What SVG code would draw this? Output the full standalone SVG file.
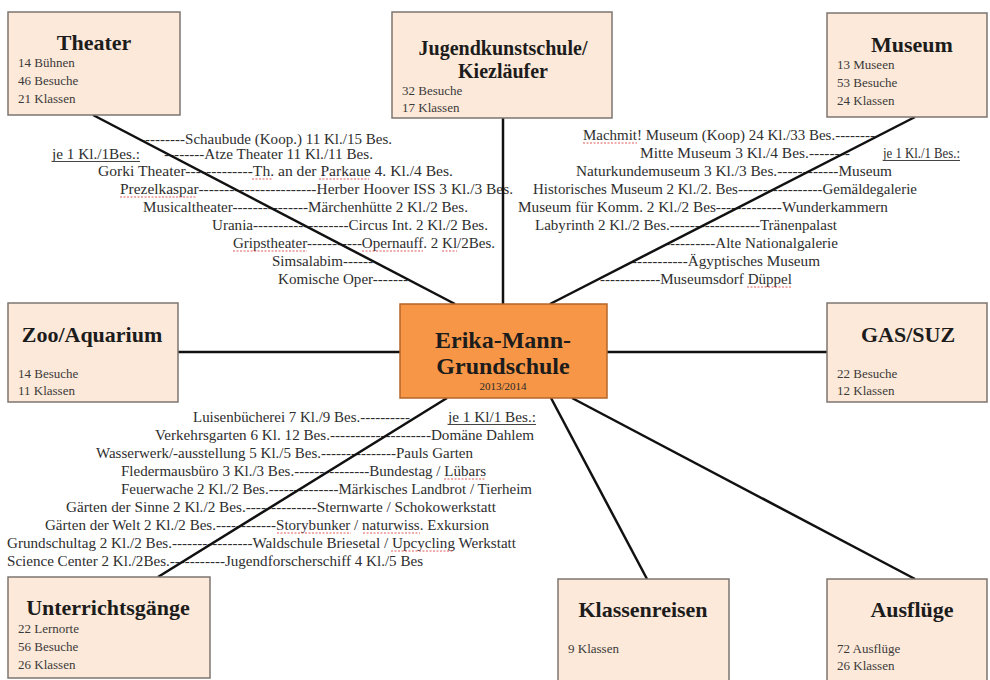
<svg xmlns="http://www.w3.org/2000/svg" width="990" height="680" viewBox="0 0 990 680">
<style>
.box{fill:#fde9d9;stroke:#7d7570;stroke-width:1.5}
.ctr{fill:#f79646;stroke:#b5652a;stroke-width:1.5}
.h{font-family:"Liberation Serif",serif;font-weight:bold;font-size:22px;fill:#1c1c1c;text-anchor:middle}
.hc{font-family:"Liberation Serif",serif;font-weight:bold;font-size:24px;fill:#1c1c1c;text-anchor:middle}
.b{font-family:"Liberation Serif",serif;font-size:13px;fill:#3a3a3a}
.t{font-family:"Liberation Serif",serif;font-size:15px;fill:#2e2e2e}
.ul{stroke:#444;stroke-width:1}
.sq{stroke:#e05a5a;stroke-width:1;fill:none;stroke-dasharray:2 1.5}
#connectors line{stroke:#111;stroke-width:2.5}
</style>

<g id="theater-list">
<text class="t" x="140" y="144" textLength="252" lengthAdjust="spacingAndGlyphs">---------Schaubude (Koop.) 11 Kl./15 Bes.</text>
<text class="t" x="52" y="159" textLength="88" lengthAdjust="spacingAndGlyphs">je 1 Kl./1Bes.:</text>
<line class="ul" x1="52" y1="161.5" x2="140" y2="161.5"/>
<text class="t" x="164" y="159" textLength="209" lengthAdjust="spacingAndGlyphs">--------Atze Theater 11 Kl./11 Bes.</text>
<text class="t" x="98" y="176" textLength="355" lengthAdjust="spacingAndGlyphs">Gorki Theater-------------Th. an der Parkaue 4. Kl./4 Bes.</text>
<text class="t" x="120" y="194" textLength="393" lengthAdjust="spacingAndGlyphs">Prezelkaspar-----------------------Herber Hoover ISS 3 Kl./3 Bes.</text>
<text class="t" x="143" y="212" textLength="325" lengthAdjust="spacingAndGlyphs">Musicaltheater---------------Märchenhütte 2 Kl./2 Bes.</text>
<text class="t" x="212" y="230" textLength="276" lengthAdjust="spacingAndGlyphs">Urania-------------------Circus Int. 2 Kl./2 Bes.</text>
<text class="t" x="233" y="248" textLength="262" lengthAdjust="spacingAndGlyphs">Gripstheater-----------Opernauff. 2 Kl/2Bes.</text>
<text class="t" x="272" y="266" textLength="101" lengthAdjust="spacingAndGlyphs">Simsalabim------</text>
<text class="t" x="278" y="284" textLength="130" lengthAdjust="spacingAndGlyphs">Komische Oper-------</text>
<path class="sq" d="M252 179H272M319 179H369M120 197H197M233 251H307M362 251H423M442 251H457"/>
</g>

<g id="museum-list">
<text class="t" x="583" y="140" textLength="292" lengthAdjust="spacingAndGlyphs">Machmit! Museum (Koop) 24 Kl./33 Bes.--------</text>
<text class="t" x="640" y="158" textLength="210" lengthAdjust="spacingAndGlyphs">Mitte Museum 3 Kl./4 Bes.--------</text>
<text class="t" x="883" y="158" textLength="77" lengthAdjust="spacingAndGlyphs">je 1 Kl./1 Bes.:</text>
<line class="ul" x1="883" y1="160.5" x2="960" y2="160.5"/>
<text class="t" x="576" y="176" textLength="316" lengthAdjust="spacingAndGlyphs">Naturkundemuseum 3 Kl./3 Bes.------------Museum</text>
<text class="t" x="533" y="194" textLength="384" lengthAdjust="spacingAndGlyphs">Historisches Museum 2 Kl./2. Bes-----------------Gemäldegalerie</text>
<text class="t" x="518" y="212" textLength="370" lengthAdjust="spacingAndGlyphs">Museum für Komm. 2 Kl./2 Bes-------------Wunderkammern</text>
<text class="t" x="535" y="230" textLength="302" lengthAdjust="spacingAndGlyphs">Labyrinth 2 Kl./2 Bes.------------------Tränenpalast</text>
<text class="t" x="665" y="248" textLength="173" lengthAdjust="spacingAndGlyphs">----------Alte Nationalgalerie</text>
<text class="t" x="632" y="266" textLength="188" lengthAdjust="spacingAndGlyphs">-----------Ägyptisches Museum</text>
<text class="t" x="600" y="284" textLength="192" lengthAdjust="spacingAndGlyphs">------------Museumsdorf Düppel</text>
<path class="sq" d="M583 143H637M747 287H791"/>
</g>

<g id="unterricht-list">
<text class="t" x="193" y="422" textLength="217" lengthAdjust="spacingAndGlyphs">Luisenbücherei 7 Kl./9 Bes.----------</text>
<text class="t" x="448" y="422" textLength="88" lengthAdjust="spacingAndGlyphs">je 1 Kl/1 Bes.:</text>
<line class="ul" x1="448" y1="424.5" x2="536" y2="424.5"/>
<text class="t" x="155" y="440" textLength="379" lengthAdjust="spacingAndGlyphs">Verkehrsgarten 6 Kl. 12 Bes.--------------------Domäne Dahlem</text>
<text class="t" x="96" y="458" textLength="377" lengthAdjust="spacingAndGlyphs">Wasserwerk/-ausstellung 5 Kl./5 Bes.---------------Pauls Garten</text>
<text class="t" x="121" y="476" textLength="365" lengthAdjust="spacingAndGlyphs">Fledermausbüro 3 Kl./3 Bes.---------------Bundestag / Lübars</text>
<text class="t" x="121" y="494" textLength="411" lengthAdjust="spacingAndGlyphs">Feuerwache 2 Kl./2 Bes.--------------Märkisches Landbrot / Tierheim</text>
<text class="t" x="66" y="512" textLength="430" lengthAdjust="spacingAndGlyphs">Gärten der Sinne 2 Kl./2 Bes.--------------Sternwarte / Schokowerkstatt</text>
<text class="t" x="45" y="530" textLength="444" lengthAdjust="spacingAndGlyphs">Gärten der Welt 2 Kl./2 Bes.------------Storybunker / naturwiss. Exkursion</text>
<text class="t" x="7" y="548" textLength="509" lengthAdjust="spacingAndGlyphs">Grundschultag 2 Kl./2 Bes.----------------Waldschule Briesetal / Upcycling Werkstatt</text>
<text class="t" x="7" y="566" textLength="416" lengthAdjust="spacingAndGlyphs">Science Center 2 Kl./2Bes.-----------Jugendforscherschiff 4 Kl./5 Bes</text>
<path class="sq" d="M444 479H486M277 533H351M363 533H420M391 551H453"/>
</g>

<g id="connectors">
<line x1="93" y1="115" x2="455" y2="304"/>
<line x1="503" y1="118" x2="503" y2="304"/>
<line x1="915" y1="117" x2="550" y2="304"/>
<line x1="178" y1="352" x2="400" y2="352"/>
<line x1="607" y1="352" x2="827" y2="352"/>
<line x1="447" y1="398" x2="158" y2="577"/>
<line x1="551" y1="398" x2="647" y2="579"/>
<line x1="572" y1="398" x2="915" y2="579"/>
</g>

<g id="theater">
<rect class="box" x="8" y="12" width="172" height="103"/>
<text class="h" x="94" y="50">Theater</text>
<text class="b" x="18" y="67">14 Bühnen</text>
<text class="b" x="18" y="85">46 Besuche</text>
<text class="b" x="18" y="103">21 Klassen</text>
</g>

<g id="jugendkunstschule">
<rect class="box" x="392" y="12" width="220" height="106"/>
<text class="h" x="503" y="55" style="font-size:20px">Jugendkunstschule/</text>
<text class="h" x="503" y="78" style="font-size:20px">Kiezläufer</text>
<text class="b" x="402" y="95">32 Besuche</text>
<text class="b" x="402" y="112">17 Klassen</text>
</g>

<g id="museum">
<rect class="box" x="827" y="13" width="160" height="104"/>
<text class="h" x="912" y="52">Museum</text>
<text class="b" x="837" y="69">13 Museen</text>
<text class="b" x="837" y="87">53 Besuche</text>
<text class="b" x="837" y="105">24 Klassen</text>
</g>

<g id="zoo">
<rect class="box" x="8" y="303" width="170" height="99"/>
<text class="h" x="92" y="342">Zoo/Aquarium</text>
<text class="b" x="18" y="378">14 Besuche</text>
<text class="b" x="18" y="395">11 Klassen</text>
</g>

<g id="schule">
<rect class="ctr" x="400" y="304" width="207" height="94"/>
<text class="hc" x="503" y="348">Erika-Mann-</text>
<text class="hc" x="503" y="374">Grundschule</text>
<text class="b" x="503" y="390" style="font-size:11px;text-anchor:middle;fill:#2a2a2a">2013/2014</text>
</g>

<g id="gas">
<rect class="box" x="827" y="303" width="160" height="99"/>
<text class="h" x="908" y="342">GAS/SUZ</text>
<text class="b" x="837" y="378">22 Besuche</text>
<text class="b" x="837" y="395">12 Klassen</text>
</g>

<g id="unterrichtsgaenge">
<rect class="box" x="8" y="577" width="202" height="101"/>
<text class="h" x="108" y="615">Unterrichtsgänge</text>
<text class="b" x="18" y="633">22 Lernorte</text>
<text class="b" x="18" y="651">56 Besuche</text>
<text class="b" x="18" y="669">26 Klassen</text>
</g>

<g id="klassenreisen">
<rect class="box" x="558" y="579" width="171" height="104"/>
<text class="h" x="643" y="617">Klassenreisen</text>
<text class="b" x="568" y="653">9 Klassen</text>
</g>

<g id="ausfluege">
<rect class="box" x="827" y="579" width="160" height="104"/>
<text class="h" x="912" y="617">Ausflüge</text>
<text class="b" x="837" y="653">72 Ausflüge</text>
<text class="b" x="837" y="670">26 Klassen</text>
</g>
</svg>
